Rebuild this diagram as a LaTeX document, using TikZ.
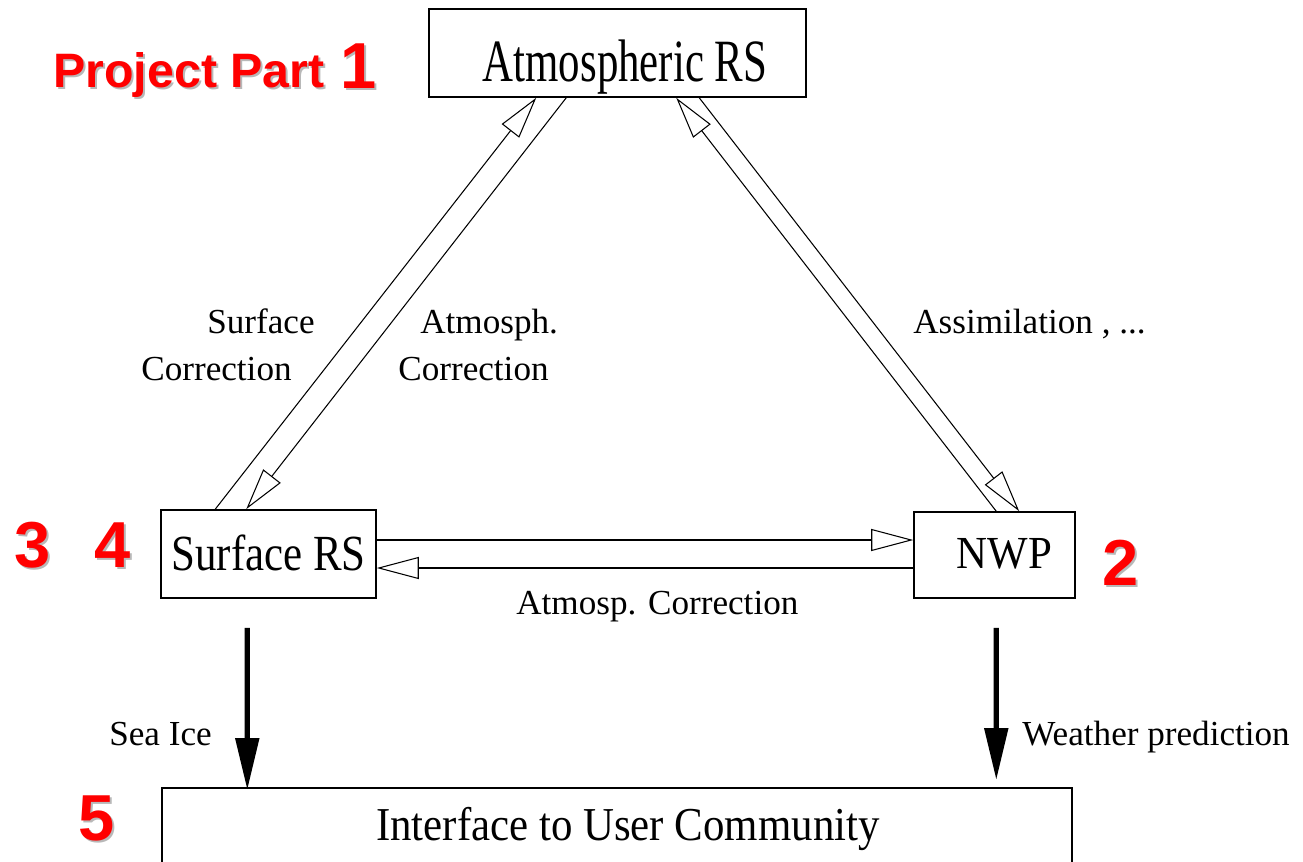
\documentclass[tikz,border=0pt]{standalone}
\usepackage{fontspec}
\setmainfont{Liberation Serif}
\newfontfamily\partfont{Liberation Sans}
\usetikzlibrary{arrows.meta,calc}
\definecolor{partc}{HTML}{FF0000}
\definecolor{shadc}{HTML}{B8B8B8}
\tikzset{
  box/.style={draw,line width=0.9pt,inner sep=0pt,text depth=0pt,font=\fontsize{24.4}{28}\selectfont},
  lbl/.style={inner sep=0pt,anchor=base west,font=\fontsize{20}{24}\selectfont},
  ptr/.style={-{Triangle[open,length=8.4mm,width=4.4mm]},line width=0.6pt},
  bigptr/.style={-{Triangle[length=10.4mm,width=4.6mm]},line width=3pt},
  part/.style={inner sep=0pt,anchor=base,text=partc,font=\partfont\bfseries\fontsize{37}{40}\selectfont},
}
\newcommand{\tall}[2]{\scalebox{1}[#1]{#2}}
\newcommand{\partno}[4][]{%
  \node[part,#1,text=shadc] at ($(#3)+(2,2.5)$) {#4};
  \node[part,#1] (#2) at (#3) {#4};}

\begin{document}
\begin{tikzpicture}[x=0.02cm,y=-0.02cm]
  \useasboundingbox (0,0) rectangle (1303,862);
  \node[box,minimum width=75.4mm,minimum height=17.6mm,text height=11.6mm] (atm) at (617.5,53) {\hspace*{3mm}\tall{1.4}{Atmospheric RS}};
  \node[box,minimum width=43mm,minimum height=17.6mm,text height=6.4mm] (srs) at (268.5,554) {\tall{1.18}{Surface RS}};
  \node[box,minimum width=32.2mm,minimum height=17.2mm,text height=5.2mm] (nwp) at (994.5,555) {\hspace*{4mm}\tall{1.07}{NWP}};
  \node[box,minimum width=182mm,minimum height=17mm,text height=4.2mm,anchor=north] (ifc) at (617,787) {\hspace*{4.4mm}\tall{1.1}{Interface to User Community}};

  \draw[ptr] ($(srs.north west)+(55,0)$) -- ($(atm.south west)+(108,0)$);
  \draw[ptr] ($(atm.south west)+(138,0)$) -- ($(srs.north west)+(86,0)$);
  \draw[ptr] ($(nwp.north west)+(83,0)$) -- ($(atm.south west)+(248,0)$);
  \draw[ptr] ($(atm.south west)+(271,0)$) -- ($(nwp.north west)+(106,0)$);
  \draw[ptr] ($(srs.east)+(0,-14)$) -- ($(nwp.west)+(0,-15)$);
  \draw[ptr] ($(nwp.west)+(0,13)$) -- ($(srs.east)+(0,14)$);
  \draw[bigptr] ($(srs.south west)+(87,29)$) -- ($(ifc.north west)+(86,3)$);
  \draw[bigptr] ($(nwp.south west)+(83,29)$) -- ($(ifc.north west)+(835,-7)$);

  \node[lbl] (l-surf) at (207,333) {Surface};
  \node[lbl] (l-surfc) at (141,380) {Correction};
  \node[lbl] (l-atm) at (420,333) {Atmosph.};
  \node[lbl] (l-atmc) at (398,380) {Correction};
  \node[lbl] (l-ass) at (913,333) {Assimilation , ...};
  \node[lbl] (l-corr) at (516,614) {Atmosp. Correction};
  \node[lbl] (l-ice) at (109,745) {Sea Ice};
  \node[lbl] (l-wx) at (1022,745) {Weather prediction};

  \partno[anchor=base west,font=\partfont\bfseries\fontsize{27.5}{30}\selectfont]{pp}{53,87}{Project Part}
  \partno[anchor=base west]{p1}{340,88}{1}
  \partno{p3}{33,567}{3}
  \partno{p4}{113,567}{4}
  \partno{p2}{1121,585}{2}
  \partno{p5}{97,840}{5}
\end{tikzpicture}
\end{document}
